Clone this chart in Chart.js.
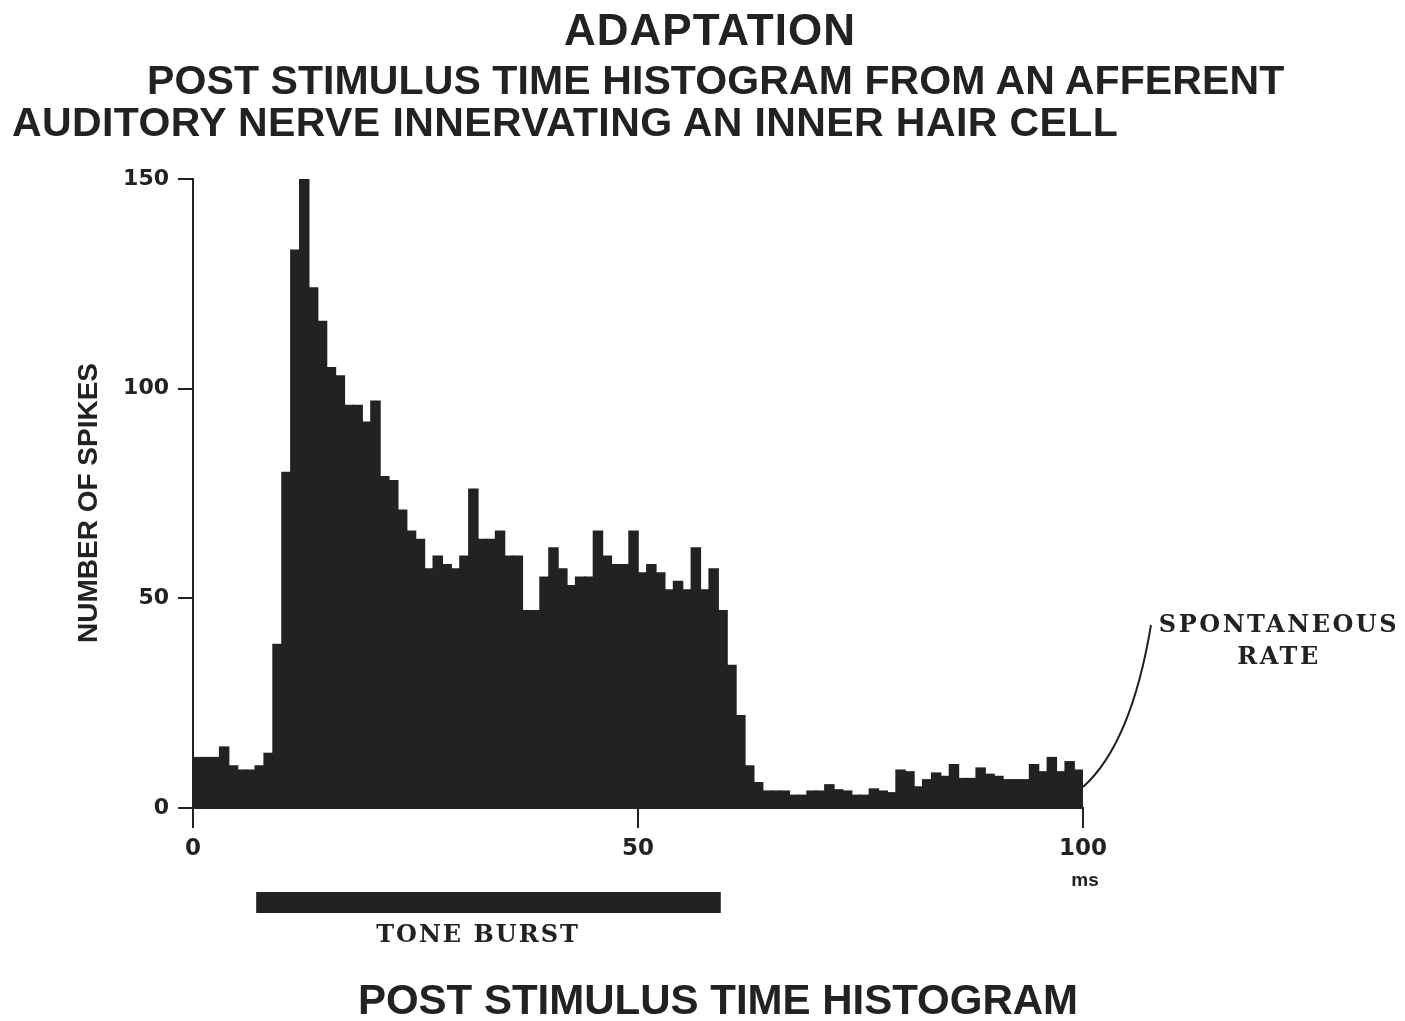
<!DOCTYPE html>
<html><head><meta charset="utf-8">
<script src="https://cdn.jsdelivr.net/npm/chart.js@4.4.1/dist/chart.umd.min.js"></script>
<style>
html,body{margin:0;padding:0;background:#fff;width:1405px;height:1021px;overflow:hidden;}
#wrap{position:absolute;left:0;top:0;width:1405px;height:1021px;}
.t{position:absolute;white-space:nowrap;line-height:1;color:#222;}
.sans{font-family:"Liberation Sans",Arial,sans-serif;font-weight:bold;}
.serif{font-family:"DejaVu Serif",serif;font-weight:bold;}
.c{text-align:center;width:1000px;}
</style></head><body>
<div id="wrap"><canvas id="c"></canvas></div>
<div class="t sans c" style="left:210px;top:8px;font-size:44px;letter-spacing:1px;">ADAPTATION</div>
<div class="t sans" style="left:147px;top:60px;font-size:41px;letter-spacing:0.1px;">POST STIMULUS TIME HISTOGRAM FROM AN AFFERENT</div>
<div class="t sans" style="left:12px;top:102px;font-size:41px;letter-spacing:0.4px;">AUDITORY NERVE INNERVATING AN INNER HAIR CELL</div>
<div class="t sans c" style="left:-412px;top:489px;font-size:28px;width:1000px;transform:rotate(-90deg);">NUMBER OF SPIKES</div>
<div class="t sans c" style="left:585px;top:870px;font-size:19px;">ms</div>
<div class="t serif c" style="left:-22px;top:922px;font-size:24px;letter-spacing:2px;">TONE BURST</div>
<div class="t serif c" style="left:779px;top:612px;font-size:24px;letter-spacing:2.5px;">SPONTANEOUS</div>
<div class="t serif c" style="left:779px;top:644px;font-size:24px;letter-spacing:2.5px;">RATE</div>
<div class="t sans c" style="left:218px;top:979px;font-size:42px;">POST STIMULUS TIME HISTOGRAM</div>
<script>
// Spike counts per 1 ms bin, 0–100 ms
const spikeCounts = [
  12, 12, 12, 14.5, 10, 9, 9, 10, 13, 39,
  80, 133, 150, 124, 116, 105, 103, 96, 96, 92,
  97, 79, 78, 71, 66, 64, 57, 60, 58, 57,
  60, 76, 64, 64, 66, 60, 60, 47, 47, 55,
  62, 57, 53, 55, 55, 66, 60, 58, 58, 66,
  56, 58, 56, 52, 54, 52, 62, 52, 57, 47,
  34, 22, 10, 6, 4, 4, 4, 3, 3, 4,
  4, 5.5, 4.3, 4, 3, 3, 4.5, 4, 3.6, 9,
  8.6, 5, 6.7, 8.3, 7.5, 10.3, 7, 7, 9.5, 8,
  7.5, 6.7, 6.7, 6.7, 10.3, 8.6, 12, 8.6, 11, 9
];
const binWidthMs = 1;
const xTickValues = [0, 50, 100];
const xTickLabels = ['0', '50', '100'];
const yTickValues = [0, 50, 100, 150];
const yTickLabels = ['0', '50', '100', '150'];
const toneBurstMs = [7.1, 59.3];
const spontaneousRate = 5;

const barData = spikeCounts.map((v, i) => ({ x: (i + 0.5) * binWidthMs, y: v }));
const ink = '#222222';

const annot = {
  id: 'annot',
  afterDraw(chart) {
    const { ctx, scales: { x, y } } = chart;
    ctx.save();
    ctx.fillStyle = ink;
    const x0 = x.getPixelForValue(toneBurstMs[0]);
    const x1 = x.getPixelForValue(toneBurstMs[1]);
    ctx.fillRect(x0, 892, x1 - x0, 21);
    const ax = x.getPixelForValue(100), ay = y.getPixelForValue(spontaneousRate);
    ctx.strokeStyle = ink; ctx.lineWidth = 2;
    ctx.beginPath();
    ctx.moveTo(ax, ay);
    ctx.bezierCurveTo(ax + 28, ay - 25, ax + 53, ay - 72, ax + 68, ay - 162);
    ctx.stroke();
    ctx.restore();
  }
};

new Chart(document.getElementById('c'), {
  type: 'bar',
  data: {
    datasets: [{
      data: barData,
      backgroundColor: ink,
      borderWidth: 0,
      inflateAmount: 0.8,
      barPercentage: 1,
      categoryPercentage: 1
    }]
  },
  options: {
    responsive: true,
    maintainAspectRatio: false,
    animation: false,
    devicePixelRatio: 1,
    layout: { padding: { left: 0, top: 179, right: 322, bottom: 0 } },
    plugins: { legend: { display: false }, tooltip: { enabled: false } },
    scales: {
      x: {
        type: 'linear', min: 0, max: 100, offset: false,
        afterFit: s => { s.height = 213; },
        afterBuildTicks: s => { s.ticks = xTickValues.map(v => ({ value: v })); },
        grid: { offset: false, display: true, drawOnChartArea: false, drawTicks: true, tickLength: 20, color: ink, lineWidth: 2 },
        border: { display: true, color: ink, width: 2 },
        ticks: {
          autoSkip: false, maxRotation: 0, padding: 7, color: ink,
          font: { family: 'DejaVu Sans', weight: 'bold', size: 23 },
          callback: v => xTickLabels[xTickValues.indexOf(v)] ?? ''
        }
      },
      y: {
        type: 'linear', min: 0, max: 150,
        afterFit: s => { s.width = 193; },
        afterBuildTicks: s => { s.ticks = yTickValues.map(v => ({ value: v })); },
        grid: { display: true, drawOnChartArea: false, drawTicks: true, tickLength: 15, color: ink, lineWidth: 2 },
        border: { display: true, color: ink, width: 2 },
        ticks: {
          padding: 9, color: ink,
          font: { family: 'DejaVu Sans', weight: 'bold', size: 22 },
          callback: v => yTickLabels[yTickValues.indexOf(v)] ?? ''
        }
      }
    }
  },
  plugins: [annot]
});
</script>
</body></html>
